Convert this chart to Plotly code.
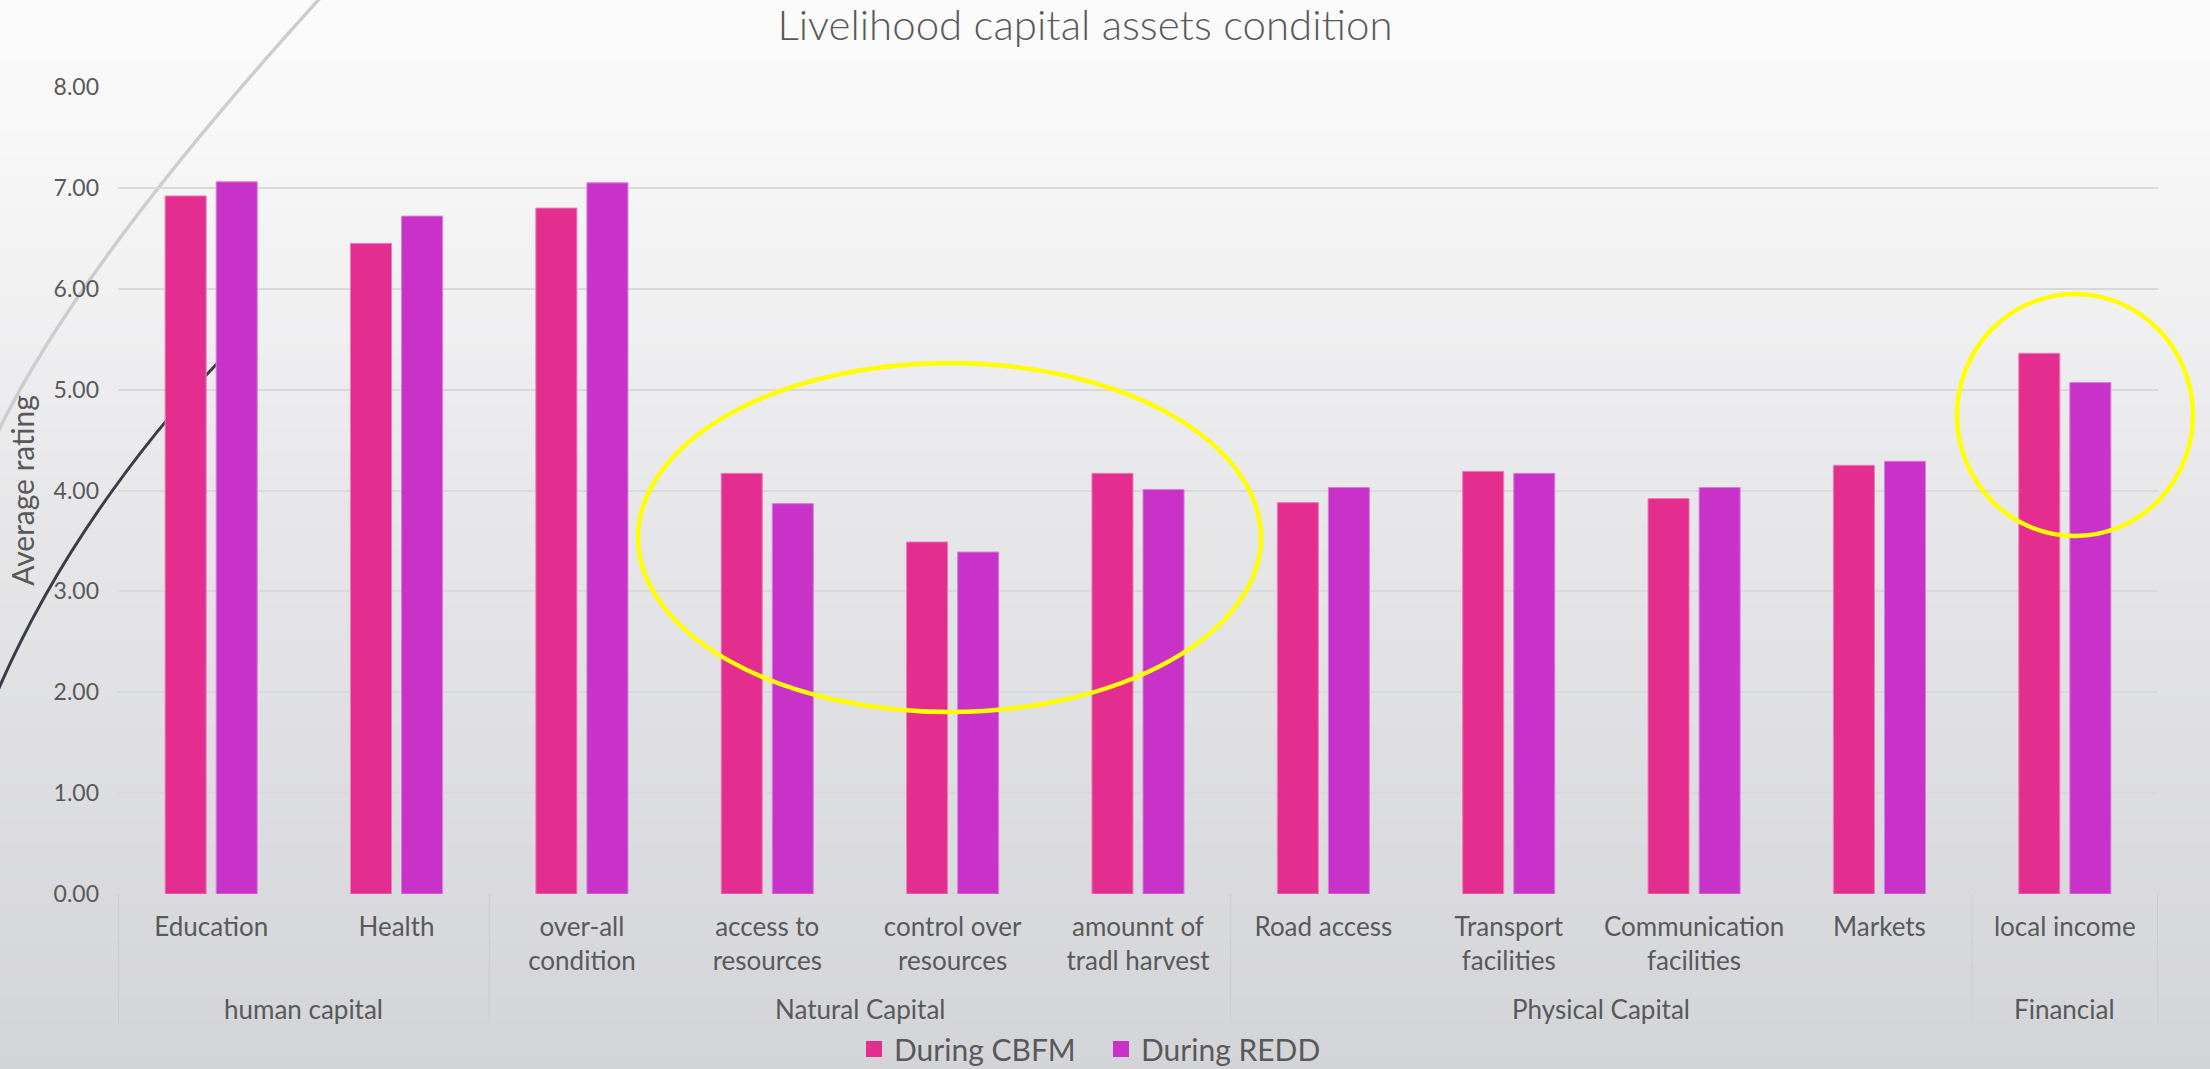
import plotly.graph_objects as go

# ---------------- data ----------------
groups = ["human capital", "human capital",
          "Natural Capital", "Natural Capital", "Natural Capital", "Natural Capital",
          "Physical Capital", "Physical Capital", "Physical Capital", "Physical Capital",
          "Financial"]
categories = ["Education", "Health", "over-all<br>condition", "access to<br>resources",
              "control over<br>resources", "amounnt of<br>tradl harvest", "Road access",
              "Transport<br>facilities", "Communication<br>facilities", "Markets", "local income"]
cbfm = [6.92, 6.45, 6.80, 4.17, 3.49, 4.17, 3.88, 4.19, 3.92, 4.25, 5.36]
redd = [7.06, 6.72, 7.05, 3.87, 3.39, 4.01, 4.03, 4.17, 4.03, 4.29, 5.07]
series_names = ["During CBFM", "During REDD"]
series_colors = ["#e32d8f", "#c832c9"]
edge_colors = ["#ef7dba", "#db7fdc"]
y_ticks = [0, 1, 2, 3, 4, 5, 6, 7, 8]

# ---------------- layout geometry ----------------
W, H = 2210, 1069
L, R, T, B = 118, 52, 87, 175
PW, PH = W - L - R, H - T - B
TXT = "#595959"
FONT = "Lato"


def px(X):
    return (X - L) / PW


def py(Y):
    return (H - B - Y) / PH


fig = go.Figure()
for name, vals, col, ecol in zip(series_names, [cbfm, redd], series_colors, edge_colors):
    fig.add_trace(go.Bar(x=categories, y=vals, name=name, showlegend=False, legendgroup=name,
                         marker=dict(color=col, line=dict(color=ecol, width=1))))
# legend entries with square swatches
for name, col in zip(series_names, series_colors):
    fig.add_trace(go.Scatter(x=[None], y=[None], name=name, mode="markers", legendgroup=name,
                             marker=dict(symbol="square", size=16, color=col)))

shapes = []
annotations = []
# background gradient (slide background)
stops = [(0, (251, 251, 251)), (120, (248, 248, 248)), (535, (230, 230, 233)), (1069, (211, 212, 216))]
N = 90
for i in range(N):
    y0 = i * H / N
    y1 = (i + 1) * H / N + 1
    ym = (y0 + y1) / 2
    for (a, ca), (b, cb) in zip(stops[:-1], stops[1:]):
        if a <= ym <= b:
            t = (ym - a) / (b - a)
            c = tuple(round(ca[k] + (cb[k] - ca[k]) * t) for k in range(3))
            break
    shapes.append(dict(type="rect", xref="paper", yref="paper", layer="below",
                       x0=px(-5), x1=px(W + 5), y0=py(y1), y1=py(y0),
                       fillcolor="rgb(%d,%d,%d)" % c, line=dict(width=0)))


def curve(pts):
    (x0, y0), (x1, y1), (x2, y2), (x3, y3) = pts
    return "M %f,%f C %f,%f %f,%f %f,%f" % (px(x0), py(y0), px(x1), py(y1), px(x2), py(y2), px(x3), py(y3))


# decorative arcs on the slide
shapes.append(dict(type="path", xref="paper", yref="paper", layer="below",
                   path=curve([(322, -4), (200, 130), (60, 300), (-6, 440)]),
                   line=dict(color="#cdcdcf", width=3.5)))
shapes.append(dict(type="path", xref="paper", yref="paper", layer="below",
                   path=curve([(238, 342), (160, 420), (60, 545), (-4, 695)]),
                   line=dict(color="#3c3c48", width=3)))

# group labels + dividers of the two-level category axis
start = 0
bounds = [-0.5]
for gi, g in enumerate(groups):
    last = gi == len(groups) - 1 or groups[gi + 1] != g
    if last:
        annotations.append(dict(text=g, xref="x", yref="paper", x=(start + gi) / 2, y=py(1009),
                                xanchor="center", yanchor="middle", showarrow=False,
                                font=dict(family=FONT, size=26, color=TXT)))
        bounds.append(gi + 0.5)
        start = gi + 1
for bx in bounds:
    shapes.append(dict(type="line", xref="x", yref="paper", layer="below",
                       x0=bx, x1=bx, y0=0, y1=py(1023),
                       line=dict(color="#cbccd0", width=1)))

# yellow highlight ellipses
shapes.append(dict(type="circle", xref="paper", yref="paper", layer="above",
                   x0=px(638), x1=px(1261), y0=py(712), y1=py(363),
                   line=dict(color="#ffff00", width=4.5)))
shapes.append(dict(type="circle", xref="paper", yref="paper", layer="above",
                   x0=px(1957), x1=px(2193), y0=py(536), y1=py(294),
                   line=dict(color="#ffff00", width=4.5)))

fig.update_layout(
    width=W, height=H,
    margin=dict(l=L, r=R, t=T, b=B, pad=0, autoexpand=False),
    paper_bgcolor="rgba(0,0,0,0)", plot_bgcolor="rgba(0,0,0,0)",
    barmode="group", bargap=0.449, bargroupgap=0.196,
    font=dict(family=FONT, color=TXT),
    title=dict(text="Livelihood capital assets condition", x=1085 / W, xref="container", xanchor="center",
               y=1 - 25 / H, yref="container", yanchor="middle",
               font=dict(family=FONT, size=42, color=TXT, weight=300)),
    showlegend=True,
    legend=dict(orientation="h", x=px(854), xanchor="left", y=py(1049), yanchor="middle",
                font=dict(family=FONT, size=30, color=TXT), bgcolor="rgba(0,0,0,0)",
                traceorder="normal", entrywidth=202, entrywidthmode="pixels", itemsizing="trace"),
    shapes=shapes,
    annotations=annotations,
)
fig.update_yaxes(range=[0, 8], tickvals=y_ticks, tickformat=".2f",
                 showgrid=True, gridcolor="#d9d9d9", gridwidth=1.5,
                 zeroline=False, showline=False, ticks="", ticklabelstandoff=18,
                 tickfont=dict(family=FONT, size=23, color=TXT),
                 title=dict(text="Average rating", standoff=10, font=dict(family=FONT, size=30, color=TXT)))
fig.update_xaxes(type="category", showgrid=False, showline=False, ticks="",
                 ticklabelstandoff=15, tickangle=0,
                 tickfont=dict(family=FONT, size=26, color=TXT))

fig.write_html("out.html")
